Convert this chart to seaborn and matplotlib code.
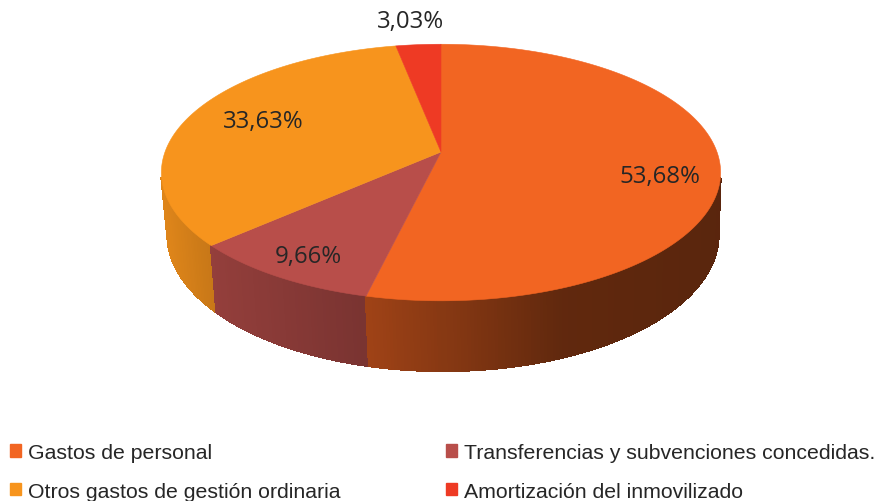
import numpy as np
import matplotlib
matplotlib.use("Agg")
import matplotlib.pyplot as plt
from matplotlib.collections import PolyCollection
from matplotlib.patches import Patch
import seaborn as sns

# slices go clockwise from 12 o'clock
categories = ["Gastos de personal", "Transferencias y subvenciones concedidas.",
              "Otros gastos de gestión ordinaria", "Amortización del inmovilizado"]
values = [53.68, 9.66, 33.63, 3.03]
value_labels = ["53,68%", "9,66%", "33,63%", "3,03%"]
colors = ["#F26522", "#B84E4A", "#F7941D", "#EE3A24"]

sns.set_theme(style="white")
plt.rcParams["font.family"] = ["Liberation Sans", "DejaVu Sans"]
palette = sns.color_palette(colors)

# perspective disc, in pixels of the picture
cx, cy = 441, 153
rx, ry, k = 276, 125, 0.16


def top_edge(t):
    u, v = np.sin(t), -np.cos(t)
    den = 1 - k * v
    return cx + rx * u / den, cy + ry * v / den


def bottom_edge(t):
    x, y = top_edge(t)
    v = -np.cos(t)
    return cx + 2 + (x - cx) * 0.985, y + 60 + 10 * v


def shade(x):
    return np.interp(x, [165, 215, 365, 450, 560, 722], [0.9, 0.8, 0.66, 0.55, 0.4, 0.37])


fig = plt.figure(figsize=(8.77, 5.02), dpi=100)
ax = fig.add_axes([0, 0, 1, 1])
ax.set_xlim(0, 877)
ax.set_ylim(502, 0)
ax.axis("off")

edges = np.deg2rad(np.cumsum([0] + values) * 3.6)

# side wall first, only the front part shows
quads, quad_colors, depth = [], [], []
for i, val in enumerate(values):
    ts = np.linspace(edges[i], edges[i + 1], max(int(val * 6), 4))
    for a, b in zip(ts[:-1], ts[1:]):
        v = -np.cos((a + b) / 2)
        if v < 0.2:
            continue
        xa, ya = top_edge(a)
        xb, yb = top_edge(b)
        xc, yc = bottom_edge(b)
        xd, yd = bottom_edge(a)
        quads.append([(xa, ya), (xb, yb), (xc, yc), (xd, yd)])
        m = shade((xa + xb) / 2)
        quad_colors.append(tuple(np.array(palette[i]) * m))
        depth.append(v)
order = np.argsort(depth)
walls = PolyCollection([quads[i] for i in order], facecolors=[quad_colors[i] for i in order],
                       edgecolors=[quad_colors[i] for i in order], linewidths=1.2,
                       antialiaseds=False)
ax.add_collection(walls)

# top face
for i, val in enumerate(values):
    ts = np.linspace(edges[i], edges[i + 1], 200)
    x, y = top_edge(ts)
    ax.fill(np.r_[cx, x], np.r_[cy, y], color=palette[i], lw=0.4, zorder=3)

# data labels
label_pos = [(660, 177), (308, 257), (263, 122), (411, 22)]
for lab, (lx, ly) in zip(value_labels, label_pos):
    ax.text(lx, ly, lab, ha="center", va="center", fontsize=17.3, color="#262626",
            family="Open Sans", zorder=4)

# legend filled by column, so rows read in slice order
handles = [Patch(color=palette[i], label=categories[i]) for i in [0, 2, 1, 3]]
ax.legend(handles=handles, ncol=2, loc="upper left", bbox_to_anchor=(10, 444),
          bbox_transform=ax.transData, frameon=False, borderpad=0, borderaxespad=0,
          fontsize=15.3, labelcolor="#262626", handlelength=0.52, handleheight=0.52,
          handletextpad=0.33, labelspacing=0.92, columnspacing=4.98)

fig.savefig("out.png", dpi=100)
